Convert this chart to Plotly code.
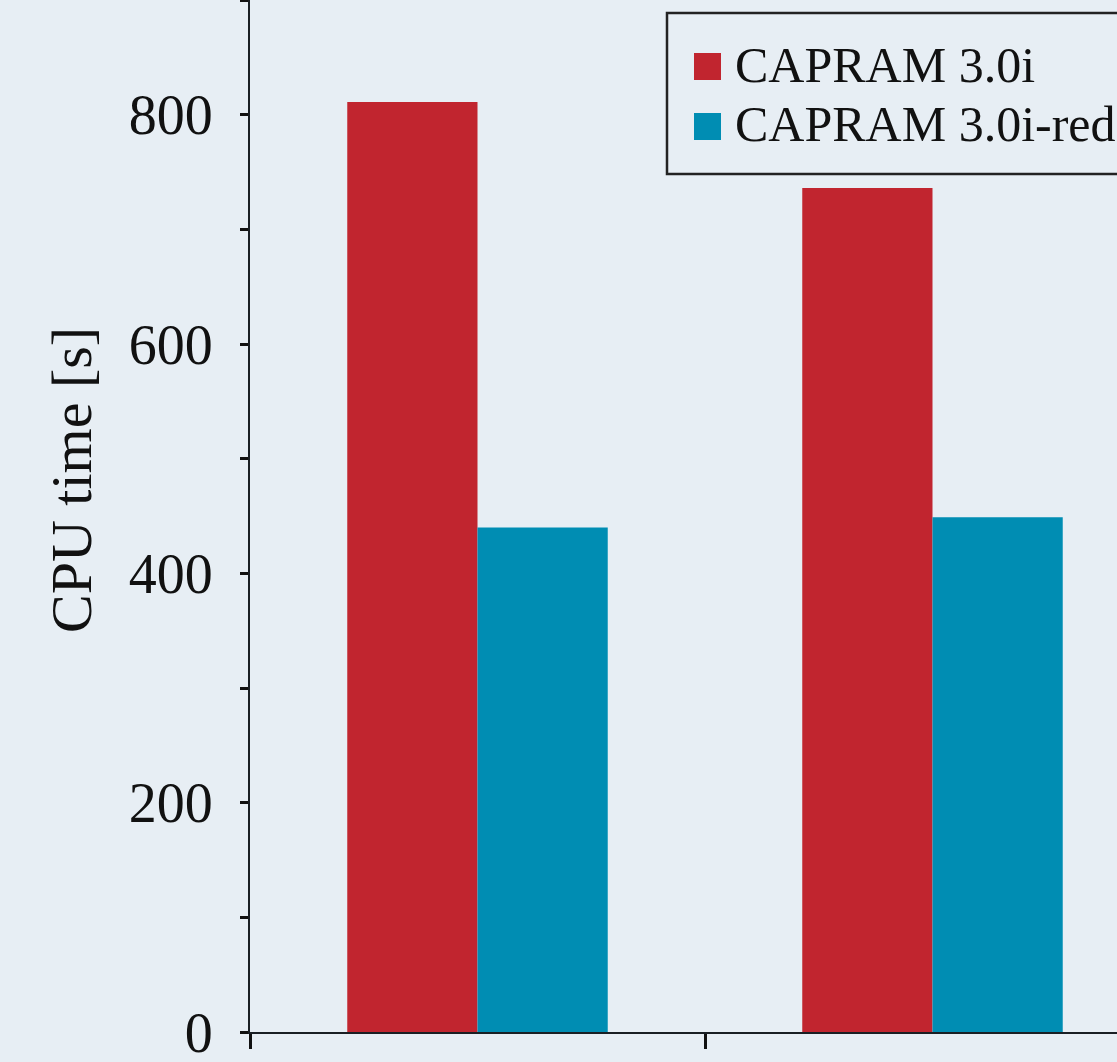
import plotly.graph_objects as go

categories = ["Scenario A", "Scenario B"]
series_names = ["CAPRAM 3.0i", "CAPRAM 3.0i-red"]
capram_full = [811, 736]
capram_red = [440, 449]
colors = ["#c1252f", "#008db3"]
y_tick_values = [0, 200, 400, 600, 800]
y_title = "CPU time [s]"

W, H = 1117, 1062
ML, MR, MT, MB = 250, 0, 0, 30
PW, PH = W - ML - MR, H - MT - MB
CAT_PX = 455.0

def px_x(p):
    return (p - ML) / PW

def px_y(p):
    return 1 - (p - MT) / PH

fig = go.Figure()
for name, vals, col in zip(series_names, [capram_full, capram_red], colors):
    fig.add_trace(go.Bar(x=categories, y=vals, name=name, marker=dict(color=col, line=dict(width=0)),
                         showlegend=False))

font_family = "Liberation Serif, Times New Roman, serif"
fig.update_layout(
    width=W, height=H,
    margin=dict(l=ML, r=MR, t=MT, b=MB, autoexpand=False),
    paper_bgcolor="#e7eef4", plot_bgcolor="#e7eef4",
    barmode="group", bargap=0.4275, bargroupgap=0,
    font=dict(family=font_family, color="#111111"),
    xaxis=dict(type="category", range=[-0.5, -0.5 + PW / CAT_PX], showgrid=False,
               showline=True, linecolor="#1a1f24", linewidth=2,
               ticks="outside", tickson="boundaries", ticklen=15, tickwidth=3, tickcolor="#111",
               showticklabels=False, zeroline=False),
    yaxis=dict(range=[0, 900], tickvals=y_tick_values, showgrid=False, zeroline=False,
               showline=True, linecolor="#1a1f24", linewidth=2,
               ticks="outside", ticklen=8, tickwidth=3, tickcolor="#111",
               tickfont=dict(size=56, family=font_family, color="#111"),
               ticklabelstandoff=16, ticklabeloverflow="allow",
               minor=dict(dtick=100, ticks="outside", ticklen=8, tickwidth=3, tickcolor="#111", showgrid=False)),
)

# y-axis title
fig.add_annotation(text=y_title, xref="paper", yref="paper", x=px_x(72), y=px_y(480),
                   textangle=-90, showarrow=False, xanchor="center", yanchor="middle",
                   font=dict(size=58, family=font_family, color="#111"))

# legend box
fig.add_shape(type="rect", xref="paper", yref="paper", x0=px_x(667), x1=px_x(1140),
              y0=px_y(174), y1=px_y(13), line=dict(color="#222", width=2.5), fillcolor="rgba(0,0,0,0)")
row_centers = [66.5, 126.5]
for name, col, cy in zip(series_names, colors, row_centers):
    fig.add_shape(type="rect", xref="paper", yref="paper", x0=px_x(694), x1=px_x(721),
                  y0=px_y(cy + 13.5), y1=px_y(cy - 13.5), line=dict(width=0), fillcolor=col)
    fig.add_annotation(text=name, xref="paper", yref="paper", x=px_x(733), y=px_y(cy - 2),
                       showarrow=False, xanchor="left", yanchor="middle",
                       font=dict(size=50, family=font_family, color="#111"))

fig.write_html("out.html", config={"displayModeBar": False},
               post_script="document.body.style.margin='0';document.body.style.padding='0';document.body.style.overflow='hidden';")
